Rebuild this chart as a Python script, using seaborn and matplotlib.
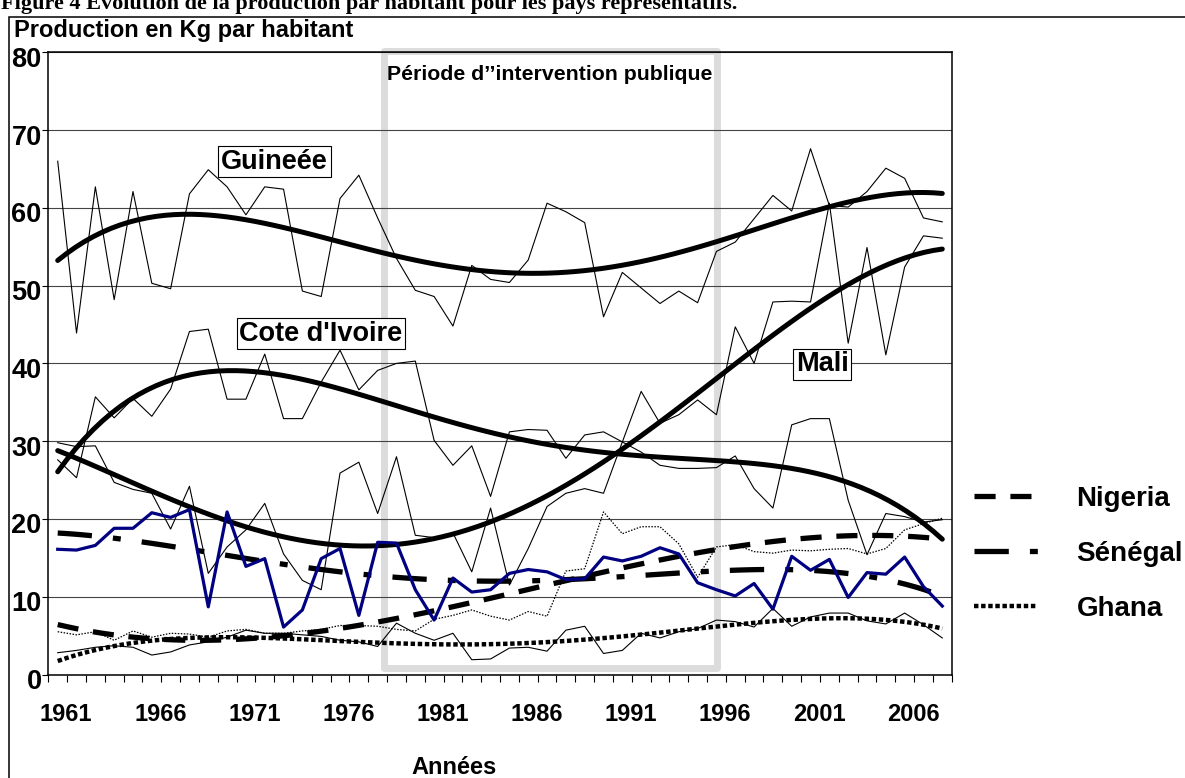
import numpy as np
import pandas as pd
import matplotlib
matplotlib.use("Agg")
import matplotlib.pyplot as plt
import matplotlib.transforms as mtransforms
from matplotlib.patches import Rectangle
import seaborn as sns

# production de riz en kg par habitant, 1961-2008
years = list(range(1961, 2009))
guinee = [66.0, 43.9, 62.7, 48.2, 62.1, 50.3, 49.6, 61.8, 64.9, 62.7,
          59.1, 62.7, 62.4, 49.3, 48.6, 61.2, 64.2, 58.7, 53.5, 49.4,
          48.6, 44.8, 52.6, 50.8, 50.4, 53.3, 60.6, 59.5, 58.1, 46.0,
          51.7, 49.7, 47.7, 49.3, 47.8, 54.4, 55.6, 58.6, 61.6, 59.6,
          67.6, 60.3, 60.1, 62.1, 65.1, 63.8, 58.7, 58.2]
cote_ivoire = [27.6, 25.3, 35.7, 33.0, 35.5, 33.2, 36.7, 44.1, 44.4, 35.4,
               35.4, 41.2, 32.9, 32.9, 37.6, 41.7, 36.6, 39.1, 40.0, 40.3,
               30.1, 26.9, 29.4, 22.9, 31.2, 31.5, 31.4, 27.8, 30.8, 31.2,
               29.9, 28.6, 26.9, 26.5, 26.5, 26.6, 28.1, 23.9, 21.4, 32.1,
               32.9, 32.9, 22.4, 15.4, 20.7, 20.3, 19.6, 19.9]
mali = [29.8, 29.3, 29.4, 24.7, 23.8, 23.3, 18.7, 24.2, 13.0, 16.4,
        18.6, 22.0, 15.5, 12.1, 10.9, 25.9, 27.3, 20.7, 28.0, 17.9,
        17.6, 18.2, 13.2, 21.4, 11.5, 16.2, 21.6, 23.3, 23.9, 23.3,
        29.9, 36.4, 32.3, 33.4, 35.3, 33.4, 44.7, 40.0, 47.9, 48.0,
        47.9, 60.6, 42.6, 54.9, 41.1, 52.4, 56.4, 56.1]
nigeria = [5.5, 5.1, 5.5, 4.4, 5.6, 4.8, 5.3, 5.2, 4.8, 5.6,
           5.8, 5.3, 5.3, 5.6, 5.8, 6.3, 6.3, 6.2, 5.8, 5.6,
           7.1, 7.6, 8.3, 7.5, 7.0, 8.1, 7.5, 13.3, 13.6, 20.9,
           18.1, 19.0, 19.0, 16.8, 12.5, 16.4, 16.7, 15.8, 15.6, 16.0,
           15.9, 16.1, 16.2, 15.5, 16.2, 18.6, 19.4, 20.1]
senegal = [16.1, 16.0, 16.6, 18.8, 18.8, 20.8, 20.2, 21.2, 8.7, 20.9,
           13.9, 14.9, 6.1, 8.3, 14.9, 16.2, 7.6, 17.0, 16.9, 10.9,
           7.0, 12.4, 10.6, 10.9, 13.0, 13.5, 13.2, 12.2, 12.3, 15.1,
           14.6, 15.2, 16.3, 15.5, 11.8, 10.9, 10.1, 11.7, 8.4, 15.2,
           13.4, 14.8, 9.9, 13.1, 12.9, 15.1, 11.3, 8.8]
ghana = [2.8, 3.1, 3.5, 3.7, 3.5, 2.5, 2.9, 3.8, 4.2, 4.8,
         5.7, 5.3, 5.3, 5.1, 4.9, 4.4, 4.2, 3.6, 6.6, 5.3,
         4.4, 5.3, 1.9, 2.0, 3.4, 3.5, 3.0, 5.7, 6.2, 2.7,
         3.1, 5.3, 4.7, 5.5, 5.9, 7.0, 6.8, 6.1, 8.5, 6.2,
         7.4, 7.9, 7.9, 6.9, 6.5, 7.9, 6.4, 4.7]
label_years = [1961, 1966, 1971, 1976, 1981, 1986, 1991, 1996, 2001, 2006]
y_ticks = [0, 10, 20, 30, 40, 50, 60, 70, 80]

# x as in Excel: category number 1..48
x = np.array(years) - 1960
df = pd.DataFrame({"x": x, "Guinee": guinee, "CI": cote_ivoire, "Mali": mali,
                   "Nigeria": nigeria, "Senegal": senegal, "Ghana": ghana})

plt.rcParams['font.family'] = ['Liberation Sans', 'DejaVu Sans']
plt.rcParams['font.weight'] = 'bold'

W, H = 1185, 778
fig = plt.figure(figsize=(W / 100, H / 100), dpi=100)
ax = fig.add_axes([48.3 / W, 103.5 / H, 903.4 / W, 622.2 / H])

# raw series (thin)
for col in ["Guinee", "CI", "Mali", "Ghana"]:
    sns.lineplot(data=df, x="x", y=col, ax=ax, color="black", lw=0.8, zorder=3)
sns.lineplot(data=df, x="x", y="Nigeria", ax=ax, color="black", lw=0.9,
             linestyle=(0, (1.2, 1.2)), zorder=3)
sns.lineplot(data=df, x="x", y="Senegal", ax=ax, color="#000080", lw=2.3, zorder=5)

# polynomial trend lines
thick = dict(color="black", lw=3.6, solid_capstyle="round")
for col, order in [("Guinee", 4), ("CI", 4), ("Mali", 4)]:
    sns.regplot(data=df, x="x", y=col, order=order, ci=None, scatter=False,
                truncate=True, ax=ax, color="black", line_kws=dict(thick, zorder=4))

handles = []
for col, order, ls, lw in [("Nigeria", 3, (0, (4, 2.8)), 3.8),
                           ("Senegal", 4, (0, (6.5, 4, 1.5, 4)), 3.8),
                           ("Ghana", 4, (0, (1, 0.6)), 3.2)]:
    sns.regplot(data=df, x="x", y=col, order=order, ci=None, scatter=False,
                truncate=True, ax=ax, color="black",
                line_kws=dict(color="black", lw=lw, linestyle=ls,
                              dash_capstyle="butt", zorder=4))
    handles.append(ax.lines[-1])

# axes styling
ax.set_xlim(0.5, 48.5)
ax.set_ylim(0, 80)
ax.set_xlabel("")
ax.set_ylabel("")
ax.set_xticks(np.arange(0.5, 49, 1))
ax.set_xticklabels([])
ax.set_xticks(np.array(label_years) - 1960 + 0.45, minor=True)
ax.set_xticklabels([str(v) for v in label_years], minor=True, fontsize=17, fontweight="bold")
ax.tick_params(axis="x", which="major", length=5, width=0.8, direction="out")
ax.tick_params(axis="x", which="minor", length=0, pad=20.5)
ax.set_yticks(y_ticks)
ax.set_yticklabels([str(v) for v in y_ticks], fontsize=19.5, fontweight="bold")
ax.tick_params(axis="y", length=4.3, width=0.8, pad=0.5)
shift = mtransforms.ScaledTranslation(0, -4.5 / 100, fig.dpi_scale_trans)
for lab in ax.get_yticklabels():
    lab.set_transform(lab.get_transform() + shift)
ax.grid(axis="y", color="#444444", lw=0.8)
ax.grid(axis="x", visible=False)
for s in ax.spines.values():
    s.set_color("black")
    s.set_linewidth(1.1)

# période d'intervention publique
ax.add_patch(Rectangle((18.34, 0.84), 17.69, 79.33, fill=False, ec="#dcdcdc",
                       lw=5, joinstyle="round", clip_on=False, zorder=1.2))
ax.text(18.5, 76.5, "Période d\u2019\u2019intervention publique", fontsize=15.3,
        fontweight="bold", ha="left", va="baseline", zorder=6)

box = dict(boxstyle="square,pad=0.1", fc="white", ec="black", lw=0.8)
ax.text(12.52, 65.94, "Guineée", fontsize=19.5, fontweight="bold", ha="center",
        va="center", bbox=box, zorder=7)
ax.text(14.99, 43.83, "Cote d'Ivoire", fontsize=19.5, fontweight="bold", ha="center",
        va="center", bbox=box, zorder=7)
ax.text(41.62, 39.88, "Mali", fontsize=19.5, fontweight="bold", ha="center",
        va="center", bbox=box, zorder=7)

ax.legend(handles, ["Nigeria", "Sénégal", "Ghana"], loc="upper left",
          bbox_to_anchor=(1.0247, 0.303), frameon=False, borderpad=0,
          borderaxespad=0, handlelength=2.3, handletextpad=1.39,
          labelspacing=1.04, prop=dict(size=20, weight="bold"))

# textes autour
fig.text(1 / W, 1 - 9 / H,
         "Figure 4 Evolution de la production par habitant pour les pays représentatifs.",
         family="Liberation Serif", fontweight="bold", fontsize=16, va="baseline")
fig.text(14.5 / W, 1 - 37 / H, "Production en Kg par habitant", fontsize=17,
         fontweight="bold", va="baseline")
fig.text(454 / W, 1 - 774 / H, "Années", fontsize=17, fontweight="bold",
         ha="center", va="baseline")
fig.add_artist(Rectangle((8.5 / W, -0.05), 1.2, 1 - 17 / H + 0.05,
                         transform=fig.transFigure, fill=False, ec="black", lw=1.1))

fig.savefig("out.png", dpi=100)
